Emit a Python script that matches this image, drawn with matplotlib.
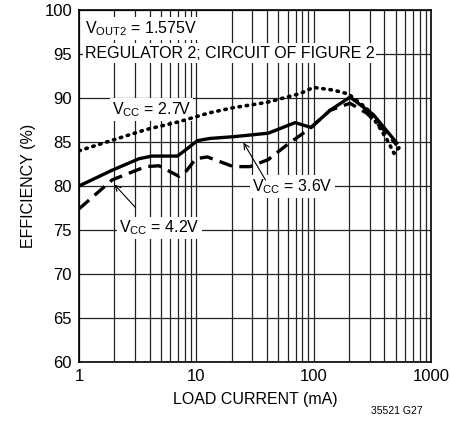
import numpy as np
import matplotlib
matplotlib.use("Agg")
import matplotlib.pyplot as plt

plt.rcParams['font.family'] = ['Liberation Sans', 'DejaVu Sans']
plt.rcParams['mathtext.fontset'] = 'custom'
plt.rcParams['mathtext.rm'] = 'Liberation Sans'

# efficiency curves (load current in mA, efficiency in %)
i_27 = [1, 1.92, 3.7, 7.1, 12.8, 20.7, 39.8, 76.6, 99.5, 147, 198, 284, 368, 433, 484, 538]
eff_27 = [84.0, 85.2, 86.4, 87.3, 88.3, 88.9, 89.5, 90.5, 91.2, 90.9, 90.45, 88.8, 86.55, 85.0, 83.7, 84.4]

i_36 = [1, 1.92, 3.25, 4.2, 6.9, 8.1, 10.2, 13, 20.7, 41, 69.5, 95, 138, 204, 323, 510]
eff_36 = [80.0, 81.8, 83.1, 83.4, 83.4, 84.1, 85.15, 85.4, 85.6, 86.0, 87.2, 86.65, 88.6, 90.1, 88.1, 84.9]

i_42 = [1, 1.92, 3.7, 4.8, 7.1, 8.1, 9.9, 12.4, 20.7, 28.7, 41, 59, 93, 138, 204, 284, 393, 510]
eff_42 = [77.4, 80.7, 82.2, 82.3, 81.1, 81.6, 83.1, 83.3, 82.2, 82.2, 83.0, 84.66, 86.55, 88.6, 89.4, 88.26, 86.4, 84.66]

fig = plt.figure(figsize=(4.5, 4.23), dpi=100)
ax = fig.add_axes([0.1756, 0.1442, 0.7822, 0.8322])

ax.set_xscale('log')
ax.set_xlim(1, 1000)
ax.set_ylim(60, 100)
ax.set_yticks(np.arange(60, 101, 5))
ax.set_xticks([1, 10, 100, 1000])
ax.set_xticklabels(['1', '10', '100', '1000'])
ax.grid(True, which='both', color='#222222', linewidth=0.9)
ax.tick_params(which='both', length=0, labelsize=12, pad=5)
for s in ax.spines.values():
    s.set_linewidth(1.2)

ax.plot(i_27, eff_27, color='black', lw=2.6, linestyle=(0, (0.4, 1.6)),
        dash_capstyle='round', zorder=4)
ax.plot(i_36, eff_36, color='black', lw=2.4, zorder=4)
ax.plot(i_42, eff_42, color='black', lw=2.4, linestyle=(0, (4, 2.2)), zorder=4)

box = dict(facecolor='white', edgecolor='none', pad=1.5)
ax.text(1.12, 97.4, r'V$_{\mathrm{OUT2}}$ = 1.575V', fontsize=11.5, bbox=box, zorder=3)
ax.text(1.12, 94.6, 'REGULATOR 2; CIRCUIT OF FIGURE 2', fontsize=11.5, bbox=box, zorder=3)
ax.text(1.9, 88.2, r'V$_{\mathrm{CC}}$ = 2.7V', fontsize=11.5, bbox=box, zorder=3)
ax.text(30, 79.4, r'V$_{\mathrm{CC}}$ = 3.6V', fontsize=11.5, bbox=box, zorder=3)
ax.text(2.2, 74.7, r'V$_{\mathrm{CC}}$ = 4.2V', fontsize=11.5, bbox=box, zorder=3)

arrow = dict(arrowstyle='->', color='black', lw=0.8)
ax.annotate('', xy=(1.93, 80.4), xytext=(3.15, 77.3), arrowprops=arrow, zorder=5)
ax.annotate('', xy=(24.5, 85.2), xytext=(40, 80.4), arrowprops=arrow, zorder=5)

ax.set_xlabel('LOAD CURRENT (mA)', fontsize=11.5, labelpad=6)
ax.set_ylabel('EFFICIENCY (%)', fontsize=11.5, labelpad=6)
fig.text(0.94, 0.022, '35521 G27', fontsize=7.5, ha='right')

fig.savefig('out.png', dpi=100)
